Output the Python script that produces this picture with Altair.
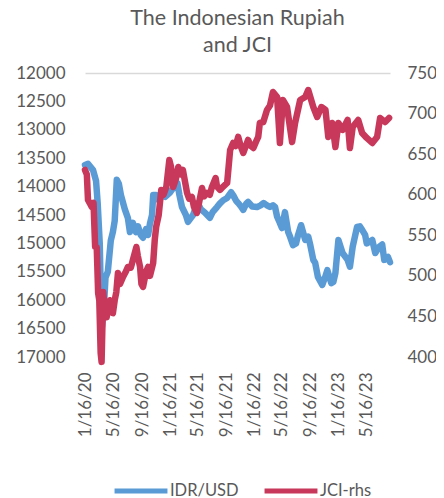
import altair as alt
import pandas as pd

# ---------------- data ----------------
idr_dates = [
    "2020-01-12", "2020-01-25", "2020-02-16", "2020-02-29", "2020-03-07", "2020-03-16",
    "2020-03-24", "2020-04-02", "2020-04-10", "2020-04-20", "2020-05-03", "2020-05-12",
    "2020-05-20", "2020-05-29", "2020-06-07", "2020-06-16", "2020-07-03", "2020-07-16",
    "2020-07-25", "2020-08-07", "2020-08-20", "2020-08-29", "2020-09-10", "2020-09-20",
    "2020-10-03", "2020-10-12", "2020-10-20", "2020-10-29", "2020-11-03", "2020-11-16",
    "2020-11-25", "2020-12-12", "2020-12-25", "2021-01-16", "2021-02-02", "2021-02-16",
    "2021-02-25", "2021-03-08", "2021-03-25", "2021-04-03", "2021-04-16", "2021-04-25",
    "2021-05-08", "2021-05-16", "2021-05-29", "2021-06-16", "2021-07-07", "2021-07-19",
    "2021-08-07", "2021-08-19", "2021-09-03", "2021-09-20", "2021-10-07", "2021-10-16",
    "2021-10-29", "2021-11-07", "2021-11-19", "2021-11-29", "2021-12-12", "2021-12-20",
    "2022-01-07", "2022-01-28", "2022-02-12", "2022-02-25", "2022-03-12", "2022-03-25",
    "2022-04-07", "2022-04-16", "2022-04-25", "2022-05-07", "2022-05-16", "2022-05-29",
    "2022-06-12", "2022-06-20", "2022-07-03", "2022-07-16", "2022-07-25", "2022-08-07",
    "2022-08-25", "2022-09-07", "2022-09-16", "2022-09-29", "2022-10-07", "2022-10-19",
    "2022-11-07", "2022-11-19", "2022-11-29", "2022-12-16", "2022-12-25", "2023-01-03",
    "2023-01-16", "2023-02-03", "2023-02-25", "2023-03-07", "2023-03-19", "2023-04-07",
    "2023-04-19", "2023-04-29", "2023-05-12", "2023-05-19", "2023-06-12", "2023-06-25",
    "2023-07-12", "2023-07-25", "2023-08-03", "2023-08-19", "2023-08-28",
]
idr_values = [
    13620, 13600, 13710, 13900, 14290, 15000,
    16520, 16200, 15600, 15500, 14950, 14800,
    14600, 13880, 13950, 14150, 14400, 14550,
    14800, 14640, 14800, 14700, 14850, 14900,
    14750, 14850, 14650, 14500, 14150, 14150,
    14230, 14150, 14180, 14100, 14000, 13940,
    14150, 14360, 14500, 14620, 14550, 14500,
    14350, 14290, 14400, 14460, 14550, 14450,
    14360, 14300, 14240, 14200, 14100, 14150,
    14250, 14290, 14350, 14410, 14300, 14270,
    14350, 14360, 14330, 14290, 14330, 14360,
    14330, 14360, 14530, 14640, 14730, 14450,
    14800, 14880, 15030, 15000, 14850, 14680,
    14940, 14880, 15030, 15290, 15340, 15590,
    15730, 15600, 15470, 15700, 15680, 15520,
    14940, 15170, 15290, 15410, 15060, 14710,
    14700, 14760, 14850, 15000, 14940, 15170,
    15060, 15020, 15290, 15240, 15330,
]

jci_dates = [
    "2020-01-12", "2020-01-20", "2020-01-25", "2020-02-01", "2020-02-10", "2020-02-18",
    "2020-02-25", "2020-03-03", "2020-03-09", "2020-03-14", "2020-03-20", "2020-03-24",
    "2020-03-31", "2020-04-08", "2020-04-15", "2020-04-20", "2020-04-29", "2020-05-05",
    "2020-05-12", "2020-05-20", "2020-05-27", "2020-06-03", "2020-06-12", "2020-06-25",
    "2020-07-07", "2020-07-16", "2020-07-29", "2020-08-07", "2020-08-22", "2020-08-28",
    "2020-09-07", "2020-09-13", "2020-09-20", "2020-10-03", "2020-10-12", "2020-10-20",
    "2020-11-03", "2020-11-10", "2020-11-16", "2020-11-27", "2020-12-08", "2020-12-18",
    "2020-12-30", "2021-01-12", "2021-01-19", "2021-01-29", "2021-02-10", "2021-02-20",
    "2021-03-03", "2021-03-12", "2021-03-30", "2021-04-08", "2021-04-20", "2021-04-29",
    "2021-05-12", "2021-05-21", "2021-06-03", "2021-06-12", "2021-06-25", "2021-07-07",
    "2021-07-16", "2021-08-01", "2021-08-07", "2021-08-20", "2021-09-03", "2021-09-20",
    "2021-09-25", "2021-10-03", "2021-10-16", "2021-10-27", "2021-11-07", "2021-11-18",
    "2021-11-29", "2021-12-10", "2021-12-20", "2022-01-01", "2022-01-12", "2022-01-23",
    "2022-02-02", "2022-02-09", "2022-02-24", "2022-03-12", "2022-03-25", "2022-04-07",
    "2022-04-25", "2022-05-07", "2022-05-20", "2022-06-07", "2022-06-29", "2022-07-12",
    "2022-08-03", "2022-08-25", "2022-09-07", "2022-09-29", "2022-10-16", "2022-11-03",
    "2022-11-21", "2022-12-03", "2022-12-20", "2023-01-03", "2023-01-16", "2023-02-03",
    "2023-02-25", "2023-03-07", "2023-03-19", "2023-04-12", "2023-04-29", "2023-05-19",
    "2023-06-12", "2023-07-03", "2023-07-16", "2023-08-07", "2023-08-24",
]
jci_values = [
    6305, 6250, 5935, 5900, 5850, 5900,
    5356, 5350, 4790, 4700, 4050, 3940,
    4800, 4550, 4490, 4600, 4700, 4550,
    4540, 4700, 4800, 5036, 4900, 4987,
    5050, 5110, 5100, 5196, 5356, 5250,
    5110, 4900, 4864, 5050, 5110, 5000,
    5160, 5450, 5603, 5750, 6059, 6000,
    6096, 6428, 6350, 6096, 6200, 6342,
    6250, 6305, 6022, 5950, 5972, 5850,
    5775, 5900, 6083, 5980, 6022, 6000,
    6096, 6206, 6100, 6059, 6100, 6145,
    6300, 6551, 6638, 6600, 6712, 6600,
    6514, 6600, 6675, 6600, 6576, 6650,
    6712, 6884, 6896, 7044, 7100, 7266,
    7204, 6638, 7167, 7081, 6650, 6884,
    7167, 7204, 7290, 7081, 6958, 7081,
    7044, 6712, 6884, 6588, 6884, 6798,
    6921, 6576, 6835, 6921, 6761, 6700,
    6638, 6712, 6946, 6896, 6946,
]

series_names = ["IDR/USD", "JCI-rhs"]
series_colors = ["#5B9BD5", "#C8385A"]
idr_ticks = list(range(12000, 17001, 500))
jci_ticks = list(range(4000, 7501, 500))
title_lines = ["The Indonesian Rupiah", "and JCI"]

idr = pd.DataFrame({"date": [d + "T00:00:00" for d in idr_dates], "value": idr_values, "series": series_names[0]})
jci = pd.DataFrame({"date": [d + "T00:00:00" for d in jci_dates], "value": jci_values, "series": series_names[1]})

FONT = "Lato"
GRAY = "#595959"

x_ticks = []
for yr in (2020, 2021, 2022, 2023):
    for mo in (1, 5, 9):
        if yr == 2023 and mo == 9:
            continue
        x_ticks.append(alt.DateTime(year=yr, month=mo, date=16))

x_enc = alt.X(
    "date:T",
    title=None,
    scale=alt.Scale(domain=[alt.DateTime(year=2020, month=1, date=12),
                            alt.DateTime(year=2023, month=8, date=28)]),
    axis=alt.Axis(values=x_ticks, format="%-m/%-d/%y", labelAngle=270, labelFont=FONT,
                  labelFontSize=17, labelColor=GRAY, labelPadding=15, domain=False,
                  ticks=False, grid=False, labelOverlap=False, labelFlush=False),
)

color_enc = alt.Color(
    "series:N",
    scale=alt.Scale(domain=series_names, range=series_colors),
    legend=alt.Legend(orient="none", legendX=27, legendY=389, direction="horizontal",
                      title=None, symbolType="stroke", symbolSize=2800, symbolStrokeWidth=5,
                      labelFont=FONT, labelFontSize=16.5, labelColor=GRAY, labelOffset=0,
                      columnPadding=15),
)

line_kw = dict(strokeWidth=6.5, strokeCap="round", strokeJoin="round")

left = alt.Chart(idr).mark_line(**line_kw).encode(
    x=x_enc,
    y=alt.Y("value:Q", title=None,
            scale=alt.Scale(domain=[12000, 17000], reverse=True, nice=False, zero=False),
            axis=alt.Axis(orient="left", values=idr_ticks, format="d", labelFont=FONT,
                          labelFontSize=17, labelColor=GRAY, labelPadding=20, domain=False,
                          ticks=False, grid=True, gridColor="#D9D9D9", gridWidth=1.5,
                          gridOpacity={"condition": {"test": "datum.value == 12000", "value": 1}, "value": 0})),
    color=color_enc,
)

right = alt.Chart(jci).mark_line(**line_kw).encode(
    x=x_enc,
    y=alt.Y("value:Q", title=None,
            scale=alt.Scale(domain=[4000, 7500], nice=False, zero=False),
            axis=alt.Axis(orient="right", values=jci_ticks, format="d", labelFont=FONT,
                          labelFontSize=17, labelColor=GRAY, labelPadding=17, domain=False,
                          ticks=False, grid=False)),
    color=color_enc,
)

chart = alt.layer(left, right).resolve_scale(y="independent").properties(
    width=305,
    height=284,
    autosize=alt.AutoSizeParams(type="none"),
    padding={"left": 77, "top": 65, "right": 46, "bottom": 141},
    title=alt.Title(title_lines, font=FONT, fontSize=21.5, fontWeight="normal", color=GRAY,
                    anchor="middle", lineHeight=27, offset=8),
).configure_view(stroke=None)

chart.save("out.html", embed_options={"renderer": "svg", "actions": False})
